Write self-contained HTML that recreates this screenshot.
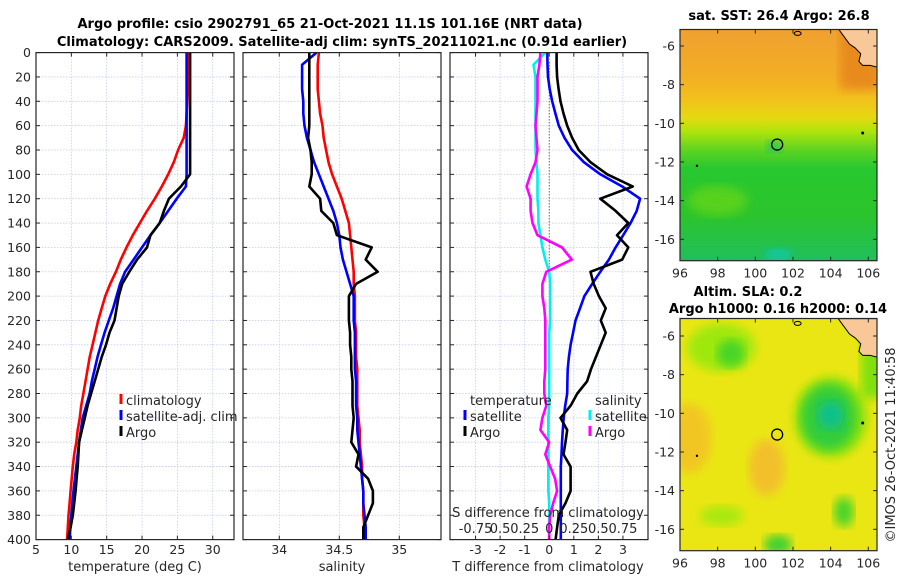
<!DOCTYPE html>
<html><head><meta charset="utf-8"><style>
html,body{margin:0;padding:0;background:#fff;width:900px;height:580px;overflow:hidden}
svg{position:absolute;left:0;top:0;font-family:"DejaVu Sans","Liberation Sans",sans-serif}
</style></head><body>
<svg id="fig" width="900" height="580" viewBox="0 0 900 580">
<defs>
<linearGradient id="sstGrad" x1="0" y1="0" x2="0" y2="1">
<stop offset="0" stop-color="#f0a030"/><stop offset="0.2" stop-color="#f2ae24"/>
<stop offset="0.3" stop-color="#f2c01c"/><stop offset="0.38" stop-color="#e6d812"/>
<stop offset="0.44" stop-color="#b0e40c"/><stop offset="0.52" stop-color="#60d420"/>
<stop offset="0.6" stop-color="#28c830"/><stop offset="0.8" stop-color="#2cc42c"/>
<stop offset="1" stop-color="#20bf5c"/></linearGradient>
<filter id="blur4"><feGaussianBlur stdDeviation="5"/></filter>
<clipPath id="clipTop"><rect x="680" y="29.5" width="197" height="231"/></clipPath>
<clipPath id="clipBot"><rect x="680" y="318.5" width="197" height="232"/></clipPath>
</defs>
<text x="330" y="28" text-anchor="middle" font-size="13" font-weight="bold">Argo profile: csio 2902791_65 21-Oct-2021 11.1S 101.16E (NRT data)</text>
<text x="342" y="46" text-anchor="middle" font-size="13" font-weight="bold">Climatology: CARS2009. Satellite-adj clim: synTS_20211021.nc (0.91d earlier)</text>
<g id="plots"></g>
<g id="maps"></g>
</svg>
<script>
// ---- data (depth grid 0..400 m, step 10) ----
const depths = [0,10,20,30,40,50,60,70,80,90,100,110,120,130,140,150,160,170,180,190,200,210,220,230,240,250,260,270,280,290,300,310,320,330,340,350,360,370,380,390,400];
const tClim = [26.5,26.5,26.5,26.5,26.4,26.3,26.2,25.9,25.1,24.5,23.7,22.8,21.8,20.7,19.7,18.7,17.8,17.0,16.3,15.5,14.8,14.3,13.8,13.4,13.0,12.6,12.3,12.0,11.7,11.4,11.2,10.9,10.7,10.4,10.2,10.05,9.9,9.75,9.6,9.5,9.4];
const tSat = [26.3,26.3,26.3,26.3,26.3,26.3,26.3,26.3,26.3,26.3,26.3,26.2,24.9,23.7,22.5,21.2,20.0,18.8,17.6,16.9,16.4,15.9,15.3,14.7,14.2,13.7,13.3,12.9,12.6,12.1,11.6,11.35,11.1,10.9,10.7,10.5,10.3,10.15,10.0,9.85,9.75];
const tArgo = [26.8,26.8,26.8,26.8,26.8,26.8,26.8,26.8,26.8,26.8,26.8,25.5,23.8,23.1,22.5,21.2,20.7,19.3,18.2,17.2,16.7,16.4,16.1,15.4,14.9,14.3,13.8,13.3,12.8,12.3,11.9,11.5,11.1,11.0,10.9,10.75,10.6,10.4,10.2,9.9,9.5];
const sClim = [34.33,34.32,34.32,34.32,34.33,34.34,34.36,34.37,34.39,34.41,34.44,34.48,34.52,34.55,34.58,34.59,34.60,34.61,34.62,34.62,34.63,34.63,34.63,34.64,34.64,34.64,34.65,34.65,34.65,34.65,34.66,34.67,34.67,34.68,34.69,34.69,34.70,34.70,34.70,34.71,34.71];
const sSat = [34.31,34.19,34.19,34.19,34.20,34.20,34.21,34.23,34.26,34.29,34.33,34.37,34.41,34.45,34.48,34.50,34.51,34.53,34.56,34.59,34.62,34.62,34.62,34.63,34.63,34.63,34.63,34.64,34.64,34.64,34.65,34.65,34.66,34.67,34.68,34.69,34.70,34.70,34.71,34.72,34.72];
const sArgo = [34.25,34.25,34.25,34.25,34.25,34.25,34.25,34.24,34.26,34.27,34.27,34.25,34.34,34.35,34.45,34.48,34.77,34.72,34.82,34.64,34.58,34.58,34.58,34.59,34.59,34.60,34.60,34.61,34.61,34.61,34.62,34.61,34.60,34.66,34.64,34.74,34.78,34.78,34.74,34.70,34.70];
const dTSat = [-0.08,-0.07,-0.05,0.02,0.12,0.25,0.39,0.62,0.93,1.41,2.08,2.97,3.70,3.56,3.31,3.01,2.70,2.43,2.08,1.75,1.43,1.25,1.07,0.97,0.87,0.80,0.75,0.74,0.73,0.65,0.59,0.55,0.52,0.50,0.47,0.47,0.47,0.47,0.47,0.47,0.47];
const dTArgo = [0.30,0.30,0.32,0.38,0.46,0.58,0.73,0.93,1.20,1.68,2.36,3.40,2.08,2.70,3.22,2.76,3.22,2.97,1.68,1.81,2.02,2.3,2.1,2.3,2.1,1.9,1.7,1.54,1.14,0.87,0.46,0.73,0.66,0.58,0.87,0.87,0.87,0.66,0.39,0.32,0.26];
const dSSat = [-0.04,-0.16,-0.14,-0.14,-0.14,-0.14,-0.14,-0.14,-0.14,-0.13,-0.12,-0.12,-0.12,-0.11,-0.11,-0.09,-0.07,-0.04,0.0,0.01,0.01,0.01,0.01,0.0,0.0,0.0,0.0,0.0,0.0,0.0,-0.01,-0.01,-0.01,-0.01,-0.01,-0.01,-0.01,0.0,0.0,0.0,0.0];
const dSArgo = [-0.09,-0.10,-0.12,-0.12,-0.12,-0.13,-0.14,-0.13,-0.12,-0.14,-0.19,-0.23,-0.19,-0.19,-0.17,-0.12,0.13,0.23,-0.03,-0.07,-0.07,-0.05,-0.04,-0.04,-0.04,-0.04,-0.04,-0.05,-0.05,-0.03,-0.07,-0.09,0.0,-0.04,0.01,0.06,0.08,0.04,0.01,0.0,0.0];
const depthTicks = [0,20,40,60,80,100,120,140,160,180,200,220,240,260,280,300,320,340,360,380,400];
const tTicks = [5,10,15,20,25,30];
const sTicks = [34,34.5,35];
const sTickLabels = ["34","34.5","35"];
const dTTicks = [-3,-2,-1,0,1,2,3];
const dSTicks = [-0.75,-0.5,-0.25,0,0.25,0.5,0.75];
const dSTickLabels = ["-0.75","0.5","0.25","0","0.25","0.5","0.75"];
const lonTicks = [96,98,100,102,104,106];
const latTicks = [-6,-8,-10,-12,-14,-16];
const argoLon = 101.16, argoLat = -11.1;

const NS = "http://www.w3.org/2000/svg";
function mk(parent, tag, attrs, text){
  const e = document.createElementNS(NS, tag);
  for (const k in attrs) e.setAttribute(k, attrs[k]);
  if (text !== undefined) e.textContent = text;
  parent.appendChild(e); return e;
}
const Y0 = 52.6, Y1 = 539.6;
const yD = d => Y0 + (d/400)*(Y1-Y0);
const plots = document.getElementById('plots');

function panel(name, x0, x1, vmin, vmax, gridVals){
  const g = mk(plots, 'g', {});
  
  
  const sx = v => x0 + (v - vmin)/(vmax - vmin)*(x1 - x0);
  mk(g, 'rect', {x:x0, y:Y0, width:x1-x0, height:Y1-Y0, fill:'#fff'});
  for (const d of depthTicks){
    if (d===0||d===400) continue;
    const l = mk(g,'line',{x1:x0,x2:x1,y1:yD(d),y2:yD(d),stroke:'#c4cbe6','stroke-width':0.8,'stroke-dasharray':'1.5,1.5'});
     
  }
  for (const v of gridVals){
    const l = mk(g,'line',{x1:sx(v),x2:sx(v),y1:Y0,y2:Y1,stroke:'#c4cbe6','stroke-width':0.8,'stroke-dasharray':'1.5,1.5'});
     
  }
  return {g, sx};
}
function frame(p, x0, x1, xt){
  const g = p.g;
  for (const d of depthTicks){
    mk(g,'line',{x1:x0,x2:x0+4,y1:yD(d),y2:yD(d),stroke:'#262626','stroke-width':1});
    mk(g,'line',{x1:x1-4,x2:x1,y1:yD(d),y2:yD(d),stroke:'#262626','stroke-width':1});
  }
  for (const v of xt){
    mk(g,'line',{x1:p.sx(v),x2:p.sx(v),y1:Y1,y2:Y1-4,stroke:'#262626','stroke-width':1});
    mk(g,'line',{x1:p.sx(v),x2:p.sx(v),y1:Y0,y2:Y0+4,stroke:'#262626','stroke-width':1});
  }
  const r = mk(g,'rect',{x:x0,y:Y0,width:x1-x0,height:Y1-Y0,fill:'none',stroke:'#262626','stroke-width':1.2});
   
}
function series(p, vals, color, name){
  const pts = vals.map((v,i)=> p.sx(v).toFixed(1)+','+yD(depths[i]).toFixed(1)).join(' ');
  const pl = mk(p.g,'polyline',{points:pts,fill:'none',stroke:color,'stroke-width':2.6,'stroke-linejoin':'round'});
  
  
}
function txt(parent, x, y, s, opts, name){
  const t = mk(parent,'text',Object.assign({x:x,y:y,'font-size':12.5,fill:'#262626'},opts||{}), s);
  
  
  return t;
}
function legendItem(g, x, y, color, label, name){
  mk(g,'rect',{x:x-1.5,y:y-11,width:3,height:10,fill:color});
  txt(g, x+5, y, label, {'font-size':13}, name);
}

for (const d of depthTicks) txt(plots, 31, yD(d)+4.5, String(d), {'text-anchor':'end'}, 'depth-tick-label');

// Panel 1: temperature
const p1 = panel('temperature-panel', 36, 234, 5, 33.01, [10,15,20,25,30]);
series(p1, tClim, '#ff0000', 'temperature-climatology-line');
series(p1, tSat, '#0000ff', 'temperature-satellite-line');
series(p1, tArgo, '#000000', 'temperature-argo-line');
frame(p1, 36, 234, tTicks);
tTicks.forEach(v => txt(plots, p1.sx(v), 554, String(v), {'text-anchor':'middle'}, 'temperature-tick-label'));
txt(plots, 135, 571, 'temperature (deg C)', {'text-anchor':'middle','font-size':13}, 'temperature-axis-title');
legendItem(p1.g, 121, 405, '#ff0000', 'climatology', 'legend-climatology');
legendItem(p1.g, 121, 421, '#0000ff', 'satellite-adj. clim', 'legend-satellite-adj');
legendItem(p1.g, 121, 437, '#000000', 'Argo', 'legend-argo');

// Panel 2: salinity
const p2 = panel('salinity-panel', 243, 441, 33.6975, 35.3475, sTicks);
series(p2, sClim, '#ff0000', 'salinity-climatology-line');
series(p2, sSat, '#0000ff', 'salinity-satellite-line');
series(p2, sArgo, '#000000', 'salinity-argo-line');
frame(p2, 243, 441, sTicks);
sTicks.forEach((v,i) => txt(plots, p2.sx(v), 554, sTickLabels[i], {'text-anchor':'middle'}, 'salinity-tick-label'));
txt(plots, 342, 571, 'salinity', {'text-anchor':'middle','font-size':13}, 'salinity-axis-title');

// Panel 3: differences
const p3 = panel('difference-panel', 450, 648, -4.04, 4.02, dTTicks);
const sxS = v => p3.sx(v*4);
const zl = mk(p3.g,'line',{x1:p3.sx(0),x2:p3.sx(0),y1:yD(8),y2:Y1,stroke:'#333','stroke-width':1,'stroke-dasharray':'1,2'});
 
series(p3, dSSat.map(v=>v*4), '#00f0f0', 'salinity-satellite-diff-line');
series(p3, dSArgo.map(v=>v*4), '#ff00ff', 'salinity-argo-diff-line');
series(p3, dTSat, '#0000ff', 'temperature-satellite-diff-line');
series(p3, dTArgo, '#000000', 'temperature-argo-diff-line');
frame(p3, 450, 648, dTTicks);
dTTicks.forEach(v => txt(plots, p3.sx(v), 554, String(v), {'text-anchor':'middle'}, 'dt-tick-label'));
txt(plots, 548, 571, 'T difference from climatology', {'text-anchor':'middle','font-size':13}, 'dt-axis-title');
dSTicks.forEach((v,i) => txt(plots, sxS(v), 533, dSTickLabels[i], {'text-anchor':'middle','font-size':13}, 'ds-tick-label'));
txt(plots, 548, 517, 'S difference from climatology', {'text-anchor':'middle','font-size':13}, 'ds-axis-title');
txt(p3.g, 470, 405, 'temperature', {'font-size':13}, 'legend-temperature-header');
legendItem(p3.g, 465, 421, '#0000ff', 'satellite', 'legend-t-satellite');
legendItem(p3.g, 465, 437, '#000000', 'Argo', 'legend-t-argo');
txt(p3.g, 595, 405, 'salinity', {'font-size':13}, 'legend-salinity-header');
legendItem(p3.g, 590, 421, '#00f0f0', 'satellite', 'legend-s-satellite');
legendItem(p3.g, 590, 437, '#ff00ff', 'Argo', 'legend-s-argo');

// ---- maps ----
const maps = document.getElementById('maps');
const MX0 = 680, MX1 = 877;
const mx = lon => MX0 + (lon-96)*18.83;
function mapAxes(g, top, bottom, lat6, lat16){
  const my = lat => lat6 + (lat+6)/(-10)*(lat16-lat6);
  for (const lon of lonTicks){
    mk(g,'line',{x1:mx(lon),x2:mx(lon),y1:bottom,y2:bottom-4,stroke:'#262626'});
    mk(g,'line',{x1:mx(lon),x2:mx(lon),y1:top,y2:top+4,stroke:'#262626'});
    txt(g, mx(lon), bottom+17, String(lon), {'text-anchor':'middle'}, 'map-lon-tick-label');
  }
  for (const lat of latTicks){
    mk(g,'line',{x1:MX0,x2:MX0+4,y1:my(lat),y2:my(lat),stroke:'#262626'});
    mk(g,'line',{x1:MX1-4,x2:MX1,y1:my(lat),y2:my(lat),stroke:'#262626'});
    txt(g, 675, my(lat)+4.5, String(lat), {'text-anchor':'end'}, 'map-lat-tick-label');
  }
  const r = mk(g,'rect',{x:MX0,y:top,width:MX1-MX0,height:bottom-top,fill:'none',stroke:'#262626','stroke-width':1.2});
   
  return my;
}
function land(g, my){
  const pts = [[104.4,-5.1],[106.5,-5.1],[106.5,-7.1],[106.1,-7.0],[105.7,-7.0],[105.5,-6.8],[105.6,-6.4],[105.3,-6.1],[105.0,-5.9],[104.7,-5.5]].map(p=>mx(p[0])+','+my(p[1])).join(' ');
  const l = mk(g,'polygon',{points:pts,fill:'#f8c898',stroke:'#000','stroke-width':1});
   
  mk(g,'ellipse',{cx:mx(102.25),cy:my(-5.35),rx:3.5,ry:2,fill:'none',stroke:'#000','stroke-width':1});
  mk(g,'circle',{cx:mx(105.7),cy:my(-10.5),r:1.5,fill:'#000'});
  mk(g,'circle',{cx:mx(96.9),cy:my(-12.2),r:1.2,fill:'#000'});
  const c = mk(g,'circle',{cx:mx(argoLon),cy:my(argoLat),r:5.5,fill:'none',stroke:'#000','stroke-width':1.3});
   
}
// SST map
const gTop = mk(maps,'g',{});
 
const myT = lat => 46 + (lat+6)/(-10)*193.3;
const cT = mk(gTop,'g',{'clip-path':'url(#clipTop)'});
mk(cT,'rect',{x:MX0,y:29.5,width:197,height:231,fill:'url(#sstGrad)'});
mk(cT,'rect',{x:mx(104.5),y:29.5,width:40,height:60,fill:'#e88a1c',filter:'url(#blur4)'});
mk(cT,'ellipse',{cx:mx(98),cy:myT(-14),rx:30,ry:15,fill:'#6ad818',opacity:0.7,filter:'url(#blur4)'});
mk(cT,'ellipse',{cx:mx(101.2),cy:myT(-16.8),rx:14,ry:6,fill:'#10c8b0',filter:'url(#blur4)'});
mk(cT,'ellipse',{cx:mx(101),cy:myT(-11.2),rx:8,ry:6,fill:'#18c078',opacity:0.8,filter:'url(#blur4)'});
land(cT, myT);
mapAxes(gTop, 29.5, 260.7, 46, 239.3);
txt(gTop, 779, 20, 'sat. SST: 26.4 Argo: 26.8', {'text-anchor':'middle','font-size':13,'font-weight':'bold',fill:'#000'}, 'sst-map-title');
// SLA map
const gBot = mk(maps,'g',{});
 
const myB = lat => 336 + (lat+6)/(-10)*193.3;
const cB = mk(gBot,'g',{'clip-path':'url(#clipBot)'});
mk(cB,'rect',{x:MX0,y:318.5,width:197,height:232,fill:'#eae614'});
mk(cB,'ellipse',{cx:mx(96.5),cy:myB(-11.3),rx:22,ry:35,fill:'#f2c624',filter:'url(#blur4)'});
mk(cB,'ellipse',{cx:mx(100.6),cy:myB(-12.8),rx:18,ry:28,fill:'#f2c02c',filter:'url(#blur4)'});
mk(cB,'ellipse',{cx:mx(98.2),cy:myB(-6.6),rx:34,ry:24,fill:'#9ee810',filter:'url(#blur4)'});
mk(cB,'ellipse',{cx:mx(98.7),cy:myB(-6.9),rx:14,ry:14,fill:'#48d428',filter:'url(#blur4)'});
mk(cB,'ellipse',{cx:mx(104),cy:myB(-10.2),rx:36,ry:40,fill:'#80e010',filter:'url(#blur4)'});
mk(cB,'ellipse',{cx:mx(103.9),cy:myB(-10.2),rx:27,ry:32,fill:'#30cc3c',filter:'url(#blur4)'});
mk(cB,'ellipse',{cx:mx(104),cy:myB(-10.1),rx:13,ry:14,fill:'#10c08c',filter:'url(#blur4)'});
mk(cB,'ellipse',{cx:mx(104.7),cy:myB(-15.1),rx:10,ry:15,fill:'#48d42c',filter:'url(#blur4)'});
mk(cB,'ellipse',{cx:mx(101.2),cy:myB(-16.8),rx:14,ry:10,fill:'#40d030',filter:'url(#blur4)'});
mk(cB,'ellipse',{cx:mx(98.2),cy:myB(-15.3),rx:22,ry:10,fill:'#a8e810',filter:'url(#blur4)'});
mk(cB,'rect',{x:mx(105.6),y:318.5,width:30,height:80,fill:'#80e010',filter:'url(#blur4)'});
land(cB, myB);
mapAxes(gBot, 318.5, 550.7, 336, 529.3);
txt(gBot, 748, 296, 'Altim. SLA: 0.2', {'text-anchor':'middle','font-size':13,'font-weight':'bold',fill:'#000'}, 'sla-map-title-1');
txt(gBot, 778, 313, 'Argo h1000: 0.16 h2000: 0.14', {'text-anchor':'middle','font-size':13,'font-weight':'bold',fill:'#000'}, 'sla-map-title-2');
txt(maps, 0, 0, '©IMOS 26-Oct-2021 11:40:58', {'text-anchor':'middle','font-size':13,transform:'translate(895,445) rotate(-90)'}, 'imos-timestamp');
</script>
</body></html>
